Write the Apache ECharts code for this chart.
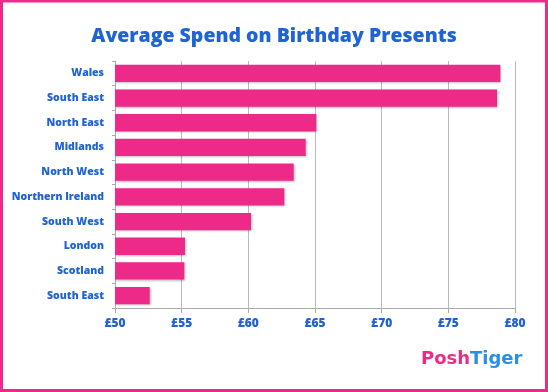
<!DOCTYPE html>
<html><head><meta charset="utf-8">
<script src="https://cdn.jsdelivr.net/npm/echarts@6/dist/echarts.min.js"></script>
<style>html,body{margin:0;padding:0;background:#fff}#c{width:548px;height:392px}</style>
</head><body><div id="c"></div>
<script>
const categories = ['Wales','South East','North East','Midlands','North West','Northern Ireland','South West','London','Scotland','South East '];
const values = [78.9, 78.65, 65.1, 64.3, 63.4, 62.7, 60.2, 55.25, 55.2, 52.6];
const xTicks = [50, 55, 60, 65, 70, 75, 80];
const BLUE = '#1f63d4', PINK = '#ee2a88';
const chart = echarts.init(document.getElementById('c'));
chart.setOption({
  animation: false,
  title: { text: 'Average Spend on Birthday Presents', left: 'center', top: 21,
    textStyle: { fontFamily: 'Open Sans', fontWeight: 800, fontSize: 19.5, color: BLUE } },
  grid: { left: 115, right: 33, top: 61, bottom: 84 },
  xAxis: { type: 'value', min: xTicks[0], max: xTicks[xTicks.length-1], interval: 5,
    axisLine: { show: true, lineStyle: { color: '#aaa' } },
    axisTick: { show: true, length: 5, lineStyle: { color: '#aaa' } },
    splitLine: { show: true, lineStyle: { color: '#bbb', width: 1 } },
    axisLabel: { formatter: v => '£' + v, margin: 10, color: BLUE, fontFamily: 'Open Sans', fontWeight: 800, fontSize: 12 } },
  yAxis: { type: 'category', data: categories, inverse: true,
    axisLine: { show: true, lineStyle: { color: '#aaa' } },
    axisTick: { show: true, length: 3, lineStyle: { color: '#aaa' } },
    axisLabel: { margin: 11, color: BLUE, fontFamily: 'Open Sans', fontWeight: 800, fontSize: 10.5, formatter: v => v.trim() } },
  series: [{ type: 'bar', data: values, barCategoryGap: '30%',
    itemStyle: { color: PINK, shadowColor: 'rgba(0,0,0,0.25)', shadowBlur: 2, shadowOffsetX: 1, shadowOffsetY: 1 } }],
  graphic: [
    { type: 'rect', shape: { x: 1.5, y: 1, width: 545, height: 389.5 }, style: { fill: 'none', stroke: PINK, lineWidth: 3 }, silent: true },
    { type: 'text', left: 421, top: 350, style: { text: 'Posh', fill: PINK, font: 'bold 18px "Comic Sans MS", "DejaVu Sans", sans-serif' } },
    { type: 'text', left: 470, top: 350, style: { text: 'Tiger', fill: '#2a8fe6', font: 'bold 18px "Comic Sans MS", "DejaVu Sans", sans-serif' } }
  ]
});
</script></body></html>
